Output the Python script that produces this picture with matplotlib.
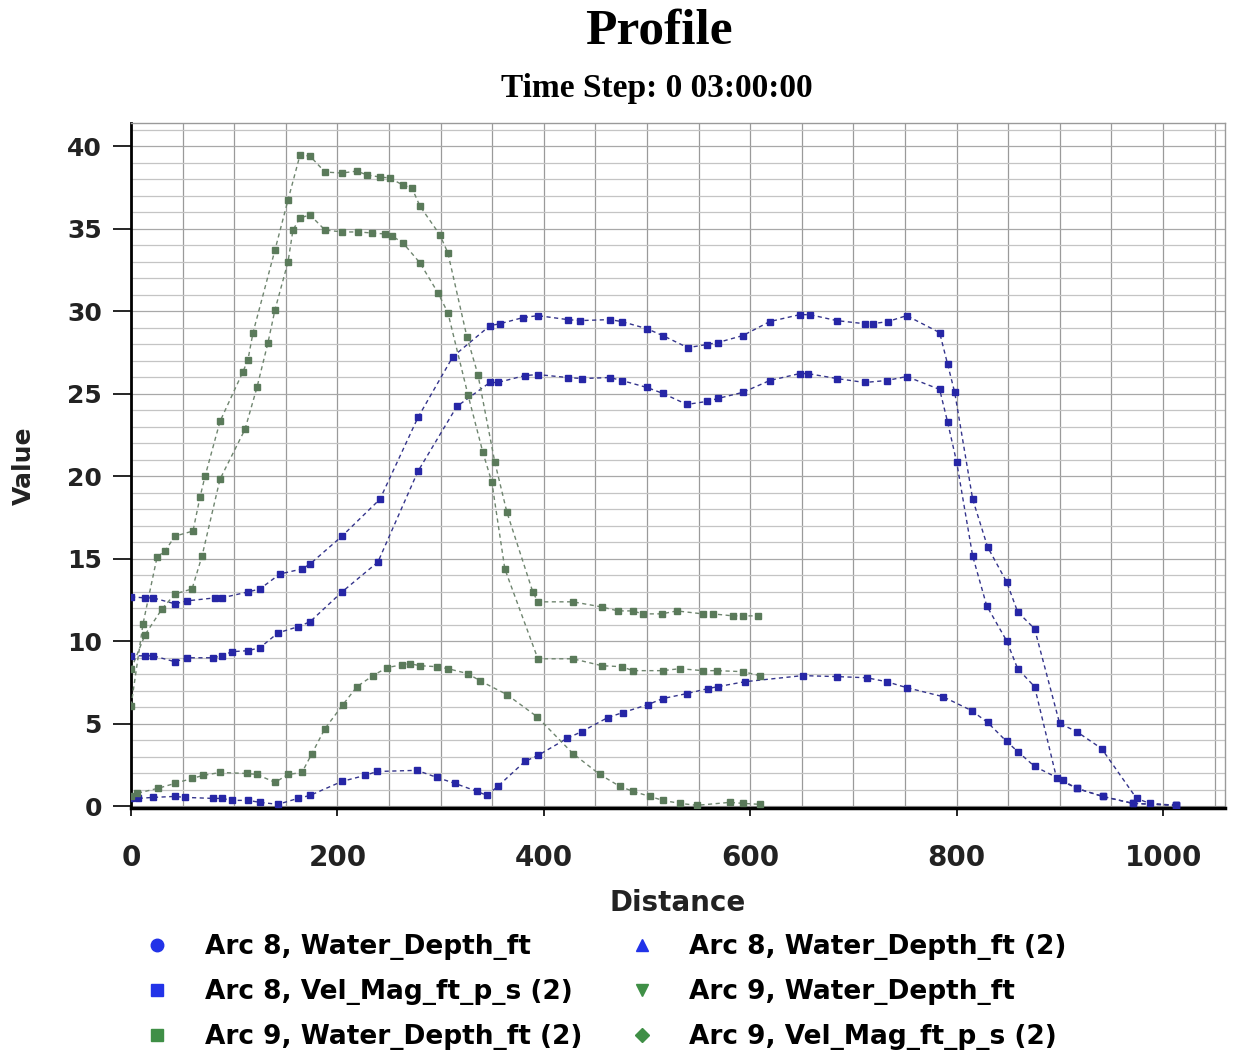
import matplotlib
matplotlib.use("Agg")
import matplotlib.pyplot as plt
from matplotlib.lines import Line2D
from matplotlib.ticker import MultipleLocator

# Arc 8, Water_Depth_ft
a8_wd_x = [0, 13.6, 21.3, 42.6, 54.2, 81.4, 88.1, 113.3, 124.9, 144.3, 165.6, 173.4, 204.4, 241.2,
           278.0, 311.9, 347.7, 357.4, 379.7, 394.2, 423.2, 434.9, 463.9, 475.5, 499.8, 515.3,
           539.5, 557.9, 568.5, 592.7, 618.9, 647.9, 657.6, 683.8, 710.9, 718.6, 733.2, 751.6,
           783.5, 791.3, 798.1, 815.5, 830.0, 848.4, 859.1, 875.5, 899.8, 916.2, 940.4, 974.3,
           987.0, 1013.0]
a8_wd_y = [12.69, 12.63, 12.63, 12.27, 12.45, 12.63, 12.63, 12.99, 13.17, 14.08, 14.38, 14.68, 16.37, 18.61,
           23.56, 27.25, 29.12, 29.24, 29.61, 29.73, 29.49, 29.43, 29.49, 29.37, 28.94, 28.52,
           27.79, 27.98, 28.10, 28.52, 29.37, 29.79, 29.79, 29.43, 29.24, 29.24, 29.37, 29.73,
           28.70, 26.77, 25.08, 18.61, 15.71, 13.60, 11.78, 10.76, 5.02, 4.53, 3.50, 0.48,
           0.18, 0.06]

# Arc 8, Water_Depth_ft (2)
a8_wd2_x = [0, 13.6, 21.3, 42.6, 54.2, 79.4, 88.1, 97.8, 113.3, 124.9, 142.4, 161.7, 173.4, 204.4,
            239.2, 278.0, 315.7, 347.7, 355.4, 381.6, 394.2, 423.2, 436.8, 463.9, 475.5, 499.8,
            515.3, 538.5, 557.9, 568.5, 592.7, 618.9, 647.9, 655.7, 683.8, 710.9, 732.2, 751.6,
            783.5, 791.3, 800.0, 815.5, 829.1, 848.4, 859.1, 875.5, 896.9, 916.2, 941.4, 970.5, 1013.0]
a8_wd2_y = [9.12, 9.12, 9.12, 8.76, 9.00, 9.00, 9.12, 9.37, 9.43, 9.61, 10.51, 10.88, 11.18, 12.99,
            14.80, 20.30, 24.23, 25.68, 25.68, 26.10, 26.16, 25.98, 25.92, 25.98, 25.80, 25.38,
            25.02, 24.35, 24.53, 24.71, 25.08, 25.80, 26.22, 26.22, 25.92, 25.68, 25.80, 26.04,
            25.26, 23.26, 20.85, 15.17, 12.15, 10.03, 8.34, 7.25, 1.69, 1.09, 0.60, 0.18, 0.06]

# Arc 8, Vel_Mag_ft_p_s (2)
a8_vel_x = [0, 6.8, 21.3, 42.6, 52.3, 79.4, 88.1, 97.8, 113.3, 124.9, 142.4, 161.7, 173.4, 204.4,
            226.6, 238.3, 277.0, 296.4, 313.8, 335.1, 344.8, 355.4, 381.6, 394.2, 422.3, 436.8,
            462.0, 476.5, 500.7, 515.3, 538.5, 558.8, 568.5, 594.7, 650.8, 683.8, 712.8, 732.2,
            751.6, 786.4, 814.5, 830.0, 848.4, 859.1, 875.5, 902.7, 916.2, 941.4, 970.5, 1013.0]
a8_vel_y = [0.50, 0.48, 0.54, 0.60, 0.54, 0.48, 0.48, 0.36, 0.36, 0.24, 0.12, 0.48, 0.66, 1.51,
            1.87, 2.11, 2.18, 1.75, 1.39, 0.91, 0.66, 1.21, 2.72, 3.08, 4.11, 4.53,
            5.38, 5.68, 6.16, 6.53, 6.83, 7.13, 7.25, 7.55, 7.92, 7.86, 7.79, 7.55,
            7.19, 6.65, 5.80, 5.08, 3.93, 3.32, 2.42, 1.57, 1.09, 0.60, 0.18, 0.06]

# Arc 9, Water_Depth_ft
a9_wd_x = [0, 13.6, 30.0, 42.6, 59.1, 68.8, 86.2, 110.4, 122.0, 132.7, 139.5, 152.1, 156.9, 163.7,
           173.4, 187.9, 204.4, 219.9, 233.4, 246.0, 252.8, 263.4, 279.9, 297.3, 307.0, 326.4,
           340.9, 349.6, 362.2, 394.2, 428.1, 456.2, 475.5, 486.2, 515.3, 531.7, 554.0, 567.6,
           592.7, 609.2]
a9_wd_y = [8.3, 10.4, 11.96, 12.87, 13.17, 15.17, 19.82, 22.84, 25.38, 28.10, 30.09, 32.99, 34.92, 35.65,
           35.83, 34.92, 34.80, 34.80, 34.74, 34.68, 34.56, 34.14, 32.93, 31.12, 29.91, 24.95,
           21.45, 19.64, 14.38, 8.94, 8.94, 8.52, 8.46, 8.22, 8.22, 8.34, 8.22, 8.22,
           8.16, 7.92]

# Arc 9, Water_Depth_ft (2)
a9_wd2_x = [0, 11.6, 25.2, 32.9, 42.6, 60.0, 66.8, 71.7, 86.2, 108.5, 113.3, 118.2, 139.5, 152.1,
            163.7, 173.4, 187.9, 204.4, 218.9, 228.6, 241.2, 250.8, 263.4, 272.2, 279.9, 299.3,
            307.0, 325.4, 336.1, 352.5, 364.2, 389.3, 394.2, 428.1, 456.2, 471.7, 486.2, 495.9,
            514.3, 528.8, 554.0, 563.7, 583.1, 592.7, 607.3]
a9_wd2_y = [6.1, 11.06, 15.1, 15.47, 16.37, 16.68, 18.73, 20.0, 23.32, 26.34, 27.07, 28.70, 33.72, 36.74,
            39.46, 39.40, 38.43, 38.37, 38.49, 38.25, 38.13, 38.07, 37.64, 37.46, 36.37, 34.62,
            33.53, 28.46, 26.16, 20.85, 17.82, 12.99, 12.39, 12.39, 12.08, 11.84, 11.84, 11.66,
            11.66, 11.84, 11.66, 11.66, 11.54, 11.54, 11.54]

# Arc 9, Vel_Mag_ft_p_s (2)
a9_vel_x = [0, 5.8, 26.1, 42.6, 59.1, 69.7, 86.2, 112.3, 122.0, 139.5, 152.1, 165.6, 175.3, 187.9,
            205.3, 218.9, 234.4, 247.9, 262.5, 270.2, 279.9, 296.4, 307.0, 326.4, 338.0, 364.2,
            393.2, 428.1, 454.2, 473.6, 486.2, 502.7, 515.3, 531.7, 548.2, 580.2, 592.7, 609.2]
a9_vel_y = [0.6, 0.79, 1.09, 1.39, 1.69, 1.87, 2.05, 1.99, 1.93, 1.45, 1.93, 2.05, 3.20, 4.71,
            6.16, 7.25, 7.92, 8.40, 8.58, 8.64, 8.52, 8.46, 8.34, 8.04, 7.61, 6.77,
            5.44, 3.20, 1.93, 1.21, 0.91, 0.60, 0.36, 0.18, 0.06, 0.24, 0.18, 0.12]

labels = ["Arc 8, Water_Depth_ft", "Arc 8, Water_Depth_ft (2)", "Arc 8, Vel_Mag_ft_p_s (2)",
          "Arc 9, Water_Depth_ft", "Arc 9, Water_Depth_ft (2)", "Arc 9, Vel_Mag_ft_p_s (2)"]

BLUE_LINE = "#34348c"
BLUE_MARK = "#2626a6"
GREEN_LINE = "#6f856f"
GREEN_MARK = "#5a7a5a"

fig = plt.figure(figsize=(12.41, 10.57), dpi=100)
ax = fig.add_axes([0.1056, 0.2356, 0.8815, 0.648])

series = [
    (a8_wd_x, a8_wd_y, BLUE_LINE, BLUE_MARK),
    (a8_wd2_x, a8_wd2_y, BLUE_LINE, BLUE_MARK),
    (a8_vel_x, a8_vel_y, BLUE_LINE, BLUE_MARK),
    (a9_wd_x, a9_wd_y, GREEN_LINE, GREEN_MARK),
    (a9_wd2_x, a9_wd2_y, GREEN_LINE, GREEN_MARK),
    (a9_vel_x, a9_vel_y, GREEN_LINE, GREEN_MARK),
]
for xs, ys, lc, mc in series:
    ax.plot(xs, ys, color=lc, lw=1.0, dashes=(3, 2.5), zorder=3)
    ax.plot(xs, ys, ls="none", marker="s", ms=3.8, color=mc, mec=mc, zorder=4)

ax.set_xlim(0, 1060)
ax.set_ylim(-0.1, 41.4)
ax.xaxis.set_major_locator(MultipleLocator(200))
ax.xaxis.set_minor_locator(MultipleLocator(50))
ax.yaxis.set_major_locator(MultipleLocator(5))
ax.yaxis.set_minor_locator(MultipleLocator(1))
ax.grid(True, which="minor", axis="y", color="#c4c4c4", lw=0.9)
ax.grid(True, which="major", axis="y", color="#a8a8a8", lw=0.9)
ax.grid(True, which="both", axis="x", color="#9a9a9a", lw=0.9)
ax.set_axisbelow(True)

for s in ("top", "right"):
    ax.spines[s].set_color("#9a9a9a")
    ax.spines[s].set_linewidth(1.0)
ax.spines["left"].set_linewidth(2.0)
ax.spines["bottom"].set_linewidth(2.5)

ax.tick_params(axis="y", which="major", direction="out", length=13, width=1.2, labelsize=18, pad=8)
ax.tick_params(axis="x", which="major", direction="out", length=6, width=1.2, labelsize=20, pad=20)
ax.tick_params(which="minor", length=0)
for lab in ax.get_xticklabels() + ax.get_yticklabels():
    lab.set_fontweight("bold")
    lab.set_color("#222222")

ax.set_xlabel("Distance", fontsize=20, fontweight="bold", labelpad=12, color="#222222")
ax.set_ylabel("Value", fontsize=18, fontweight="bold", labelpad=22, color="#222222")

fig.text(0.531, 0.970, "Profile", ha="center", va="center", family="Liberation Serif",
         fontsize=37, fontweight="bold")
fig.text(0.529, 0.916, "Time Step: 0 03:00:00", ha="center", va="center", family="Liberation Serif",
         fontsize=24, fontweight="bold")

LEG_BLUE = "#2233e8"
LEG_GREEN = "#3f8f46"
handles = [
    Line2D([], [], ls="none", marker="o", ms=9, color=LEG_BLUE),
    Line2D([], [], ls="none", marker="s", ms=8, color=LEG_BLUE),
    Line2D([], [], ls="none", marker="s", ms=8, color=LEG_GREEN),
    Line2D([], [], ls="none", marker="^", ms=9, color=LEG_BLUE),
    Line2D([], [], ls="none", marker="v", ms=9, color=LEG_GREEN),
    Line2D([], [], ls="none", marker="D", ms=7, color=LEG_GREEN),
]
order = [labels[0], labels[2], labels[4], labels[1], labels[3], labels[5]]
fig.legend(handles, order, loc="upper left", bbox_to_anchor=(0.095, 0.139), ncol=2,
           frameon=False, prop={"size": 19, "weight": "bold"}, handletextpad=1.2,
           columnspacing=1.65, labelspacing=0.72, handlelength=1.2,
           bbox_transform=fig.transFigure)

fig.savefig("out.png", dpi=100)
